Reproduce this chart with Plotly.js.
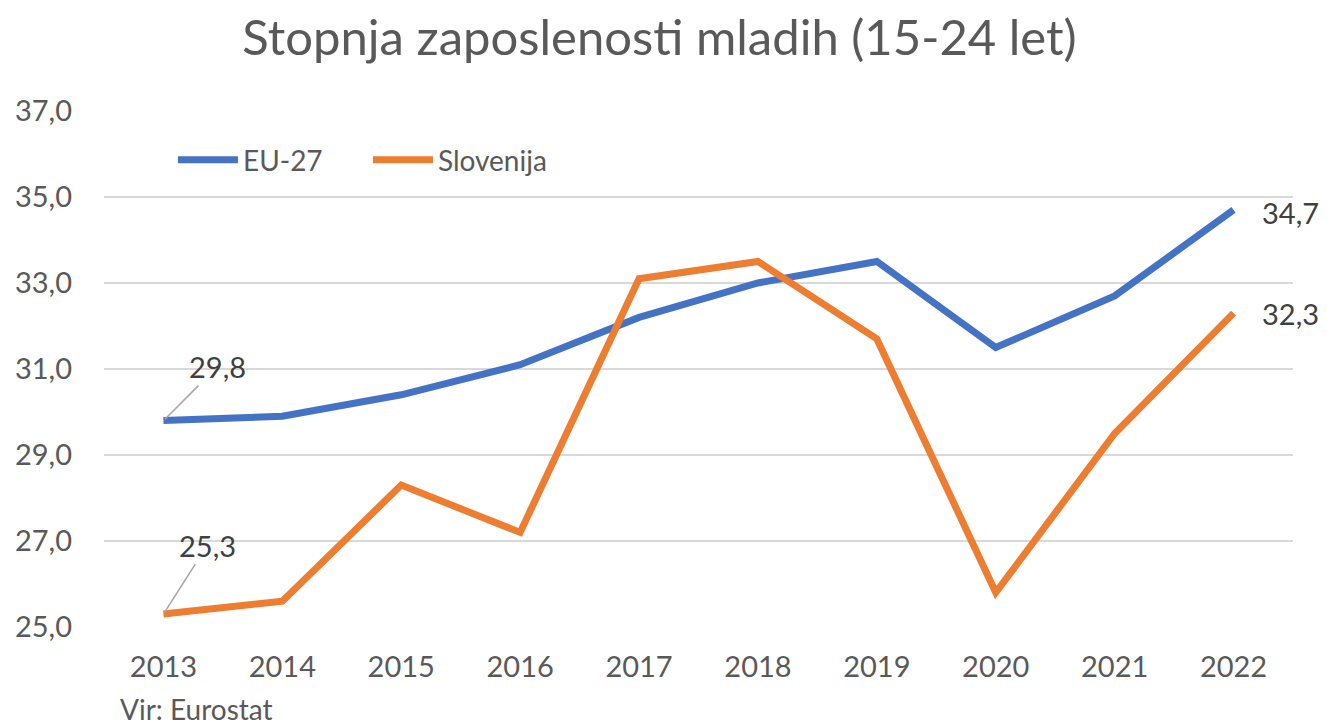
<!DOCTYPE html>
<html>
<head>
<meta charset="utf-8">
<script src="https://cdn.plot.ly/plotly-3.0.1.min.js"></script>
<style>html,body{margin:0;padding:0;background:#fff;}#chart{width:1327px;height:728px;}</style>
</head>
<body>
<div id="chart"></div>
<script>
const years = ["2013","2014","2015","2016","2017","2018","2019","2020","2021","2022"];
const eu27 = [29.8, 29.9, 30.4, 31.1, 32.2, 33.0, 33.5, 31.5, 32.7, 34.7];
const slovenija = [25.3, 25.6, 28.3, 27.2, 33.1, 33.5, 31.7, 25.8, 29.5, 32.3];
const seriesNames = ["EU-27", "Slovenija"];
const yTicks = [25, 27, 29, 31, 33, 35, 37];

const fmt = v => v.toFixed(1).replace('.', ',');
const FONT = 'Lato, "Open Sans", sans-serif';
const GREY = '#595959';

const traces = [
  {x: years, y: eu27, name: seriesNames[0], type: 'scatter', mode: 'lines',
   line: {color: '#4472C4', width: 7}, hoverinfo: 'skip'},
  {x: years, y: slovenija, name: seriesNames[1], type: 'scatter', mode: 'lines',
   line: {color: '#ED7D31', width: 7}, hoverinfo: 'skip'}
];

const last = years.length - 1;
const annFont = {family: FONT, size: 29, color: '#404040'};
const annotations = [
  {x: 0, y: eu27[0], text: fmt(eu27[0]), showarrow: true, arrowhead: 0,
   arrowwidth: 1.5, arrowcolor: '#a6a6a6', ax: 54, ay: -54, font: annFont, standoff: 2},
  {x: 0, y: slovenija[0], text: fmt(slovenija[0]), showarrow: true, arrowhead: 0,
   arrowwidth: 1.5, arrowcolor: '#a6a6a6', ax: 44, ay: -69, font: annFont, standoff: 2},
  {x: last, y: eu27[last], text: fmt(eu27[last]), showarrow: false,
   xanchor: 'left', xshift: 26, yshift: -3, font: annFont},
  {x: last, y: slovenija[last], text: fmt(slovenija[last]), showarrow: false,
   xanchor: 'left', xshift: 26, font: annFont},
  {xref: 'paper', yref: 'paper', x: 0.012, y: -0.158, xanchor: 'left', yanchor: 'middle',
   text: 'Vir: Eurostat', showarrow: false, font: {family: FONT, size: 28, color: GREY}}
];

const layout = {
  width: 1327, height: 728,
  margin: {l: 104, r: 34, t: 111, b: 101},
  paper_bgcolor: '#fff', plot_bgcolor: '#fff',
  title: {text: 'Stopnja zaposlenosti mladih (15-24 let)', x: 0.497, xanchor: 'center',
          y: 0.948, yanchor: 'middle', font: {family: FONT, size: 49, color: GREY}},
  xaxis: {type: 'category', range: [-0.5, 9.5], showgrid: false, zeroline: false,
          showline: false, ticks: '', tickfont: {family: FONT, size: 29, color: GREY},
          ticklabelstandoff: 20},
  yaxis: {range: [25, 37], tickvals: yTicks, ticktext: yTicks.map(fmt),
          showgrid: true, gridcolor: '#d9d9d9', gridwidth: 2, zeroline: false,
          showline: false, ticks: '', tickfont: {family: FONT, size: 29, color: GREY},
          ticklabelstandoff: 31},
  showlegend: true,
  legend: {orientation: 'h', x: 0.058, y: 0.905, xanchor: 'left', yanchor: 'middle',
           font: {family: FONT, size: 28, color: GREY}, bgcolor: 'rgba(0,0,0,0)',
           itemwidth: 60, entrywidth: 120, entrywidthmode: 'pixels'},
  annotations: annotations
};

Plotly.newPlot('chart', traces, layout, {displayModeBar: false, staticPlot: true});
</script>
</body>
</html>
